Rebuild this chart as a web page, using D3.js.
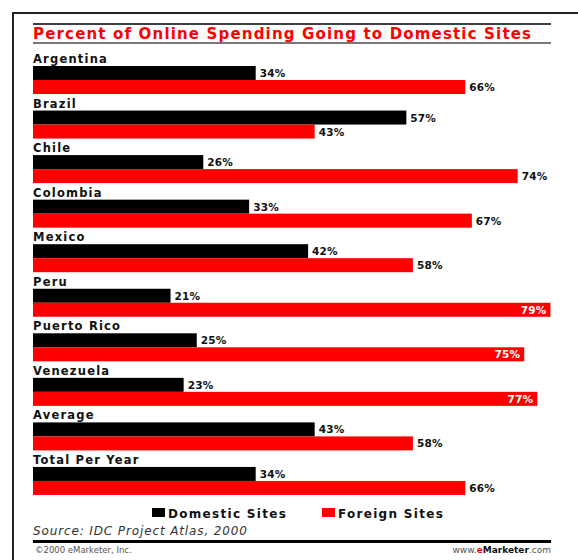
<!DOCTYPE html>
<html>
<head>
<meta charset="utf-8">
<script src="https://cdn.jsdelivr.net/npm/d3@7"></script>
<style>
    body { margin: 0; background: #fff; }
    svg { display: block; }
</style>
</head>
<body>
<svg id="chart"></svg>
<script>
const countries = ['Argentina', 'Brazil', 'Chile', 'Colombia', 'Mexico', 'Peru',
    'Puerto Rico', 'Venezuela', 'Average', 'Total Per Year'];
const domestic = [34, 57, 26, 33, 42, 21, 25, 23, 43, 34];
const foreign = [66, 43, 74, 67, 58, 79, 75, 77, 58, 66];
const seriesNames = ['Domestic Sites', 'Foreign Sites'];

const width = 578, height = 560;
const svg = d3.select('#chart').attr('width', width).attr('height', height);
const font = '"DejaVu Sans", Verdana, sans-serif';

// frame (top + left only)
svg.append('line').attr('x1', 12).attr('x2', width).attr('y1', 13).attr('y2', 13)
    .attr('stroke', '#222').attr('stroke-width', 2);
svg.append('line').attr('x1', 13).attr('x2', 13).attr('y1', 12).attr('y2', height)
    .attr('stroke', '#222').attr('stroke-width', 2);

// title block
svg.append('line').attr('x1', 33).attr('x2', 551).attr('y1', 24).attr('y2', 24)
    .attr('stroke', '#000').attr('stroke-width', 1.5);
svg.append('line').attr('x1', 33).attr('x2', 551).attr('y1', 43).attr('y2', 43)
    .attr('stroke', '#777').attr('stroke-width', 2);
svg.append('text')
    .attr('x', 33).attr('y', 39)
    .attr('font-family', font).attr('font-weight', 'bold').attr('font-size', 15)
    .attr('fill', '#ff0000')
    .attr('textLength', 498).attr('lengthAdjust', 'spacing')
    .text('Percent of Online Spending Going to Domestic Sites');

let xScale = d3.scaleLinear().domain([0, 100]).range([33, 33 + 655]);
let yScale = d3.scaleBand().domain(countries).range([66, 66 + 44.55 * countries.length]);
const barH = 14;

let groups = svg.selectAll('g.country')
    .data(countries)
    .enter().append('g')
    .attr('class', 'country')
    .attr('transform', d => `translate(0, ${yScale(d)})`);

groups.append('text')
    .attr('x', 33).attr('y', -3)
    .attr('font-family', font).attr('font-weight', 'bold').attr('font-size', 11.5)
    .attr('letter-spacing', 1.2)
    .attr('fill', '#111')
    .text(d => d);

groups.append('rect')
    .attr('x', xScale(0)).attr('y', 0)
    .attr('width', (d, i) => xScale(domestic[i]) - xScale(0))
    .attr('height', barH)
    .attr('fill', '#000');

groups.append('rect')
    .attr('x', xScale(0)).attr('y', barH)
    .attr('width', (d, i) => xScale(foreign[i]) - xScale(0))
    .attr('height', barH)
    .attr('fill', '#ff0000');

groups.append('text')
    .attr('x', (d, i) => xScale(domestic[i]) + 4).attr('y', 11)
    .attr('font-family', font).attr('font-weight', 'bold').attr('font-size', 10.5)
    .attr('letter-spacing', 0.2)
    .attr('fill', '#111')
    .text((d, i) => domestic[i] + '%');

groups.append('text')
    .attr('x', (d, i) => foreign[i] >= 75 ? xScale(foreign[i]) - 4 : xScale(foreign[i]) + 4)
    .attr('y', barH + 11)
    .attr('text-anchor', (d, i) => foreign[i] >= 75 ? 'end' : 'start')
    .attr('font-family', font).attr('font-weight', 'bold').attr('font-size', 10.5)
    .attr('letter-spacing', 0.2)
    .attr('fill', (d, i) => foreign[i] >= 75 ? '#fff' : '#111')
    .text((d, i) => foreign[i] + '%');

// legend
const legend = [
    { name: seriesNames[0], color: '#000', x: 152 },
    { name: seriesNames[1], color: '#ff0000', x: 322 }
];
let lg = svg.selectAll('g.legend').data(legend).enter().append('g')
    .attr('class', 'legend')
    .attr('transform', d => `translate(${d.x}, 508)`);
lg.append('rect').attr('width', 13).attr('height', 9).attr('fill', d => d.color);
lg.append('text')
    .attr('x', 16).attr('y', 9.5)
    .attr('font-family', font).attr('font-weight', 'bold').attr('font-size', 12)
    .attr('letter-spacing', 1.3)
    .attr('fill', '#111')
    .text(d => d.name);

// source
svg.append('text')
    .attr('x', 33).attr('y', 535)
    .attr('font-family', font).attr('font-style', 'italic').attr('font-size', 12)
    .attr('fill', '#333')
    .attr('textLength', 214).attr('lengthAdjust', 'spacing')
    .text('Source: IDC Project Atlas, 2000');

// footer
svg.append('line').attr('x1', 33).attr('x2', 551).attr('y1', 541.5).attr('y2', 541.5)
    .attr('stroke', '#000').attr('stroke-width', 3);
svg.append('text')
    .attr('x', 35).attr('y', 553)
    .attr('font-family', font).attr('font-size', 8.5)
    .attr('fill', '#555')
    .text('©2000 eMarketer, Inc.');
let www = svg.append('text')
    .attr('x', 551).attr('y', 553)
    .attr('text-anchor', 'end')
    .attr('font-family', font).attr('font-size', 9)
    .attr('fill', '#555');
www.append('tspan').text('www.');
www.append('tspan').attr('fill', '#ff0000').attr('font-weight', 'bold').text('e');
www.append('tspan').attr('fill', '#111').attr('font-weight', 'bold').text('Marketer');
www.append('tspan').text('.com');
</script>
</body>
</html>
